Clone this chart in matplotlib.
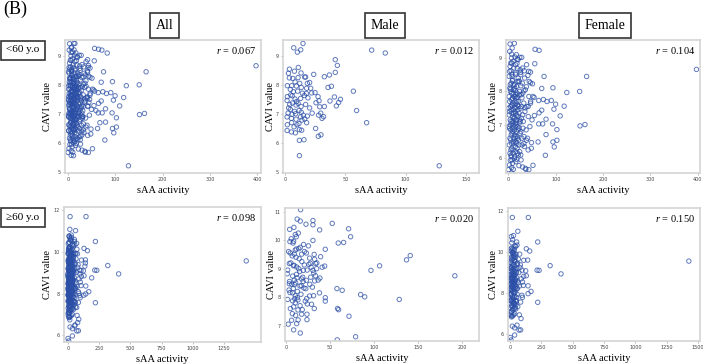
import numpy as np
import matplotlib
matplotlib.use('Agg')
import matplotlib.pyplot as plt

# ---------------------------------------------------------------------------
# Data: (sAA activity, CAVI value) per subject
# "All" panels are the union of the Male and Female groups
# ---------------------------------------------------------------------------
male_lt60 = np.array([
    (14.9, 9.43), (7.2, 9.28), (13.0, 9.21), (10.2, 9.13), (71.9, 9.20), (83.2, 9.10),
    (41.7, 8.87), (43.4, 8.67), (3.6, 8.54), (7.8, 8.47), (2.8, 8.40), (13.3, 8.41),
    (16.3, 8.27), (17.1, 8.27), (23.8, 8.36), (32.6, 8.28), (36.8, 8.34), (41.7, 8.43),
    (3.6, 8.24), (6.4, 8.22), (10.8, 8.25), (8.3, 8.10), (12.2, 8.05), (20.4, 8.08),
    (1.9, 7.97), (5.5, 7.97), (9.4, 7.96), (13.5, 7.91), (17.9, 7.88), (21.3, 7.88),
    (35.7, 7.91), (56.7, 7.78), (4.4, 7.84), (6.9, 7.76), (10.5, 7.78), (14.4, 7.71),
    (17.7, 7.70), (22.1, 7.72), (24.9, 7.73), (1.9, 7.59), (4.7, 7.65), (8.3, 7.51),
    (12.9, 7.53), (16.0, 7.63), (27.4, 7.59), (41.0, 7.58), (37.3, 7.44), (28.2, 7.45),
    (25.7, 7.38), (44.5, 7.39), (42.6, 7.27), (32.6, 7.25), (1.7, 7.46), (3.9, 7.32),
    (6.1, 7.37), (9.1, 7.30), (10.8, 7.36), (13.3, 7.25), (17.1, 7.32), (20.4, 7.20),
    (28.8, 7.24), (4.4, 7.15), (8.0, 7.08), (11.6, 7.11), (2.5, 7.02), (5.8, 6.98),
    (8.8, 7.00), (13.5, 7.05), (15.2, 6.95), (18.5, 6.92), (29.6, 7.02), (27.9, 6.95),
    (59.4, 7.11), (67.7, 6.69), (1.7, 6.89), (5.3, 6.84), (9.1, 6.81), (12.9, 6.89),
    (16.3, 6.82), (17.9, 6.69), (30.7, 6.84), (1.9, 6.62), (5.5, 6.69), (9.9, 6.62),
    (11.6, 6.66), (25.4, 6.49), (1.7, 6.42), (5.3, 6.37), (8.6, 6.34), (11.9, 6.45),
    (13.8, 6.43), (27.6, 6.22), (29.8, 6.27), (11.9, 6.08), (15.7, 6.10), (11.9, 5.55),
    (128.0, 5.20), (6.0, 7.62), (9.5, 7.42), (19.0, 7.55), (3.0, 7.20), (14.0, 6.78),
    (22.5, 7.02), (7.5, 6.55), (11.0, 8.60), (18.5, 8.05), (32.0, 6.90), (38.5, 7.95),
    (46.0, 7.50),
])

female_lt60 = np.array([
    # sparse points
    (3.6, 9.42), (12.6, 9.44), (56.5, 9.26), (64.9, 9.23), (6.9, 9.12), (13.9, 9.03),
    (24.1, 9.02), (28.2, 9.02), (19.2, 8.97), (55.8, 8.83), (6.9, 8.85), (18.2, 8.84),
    (18.9, 8.69), (5.6, 8.62), (33.5, 8.62), (25.8, 8.57), (46.8, 8.58), (7.5, 8.52),
    (15.2, 8.51), (41.2, 8.48), (75.4, 8.45), (165.3, 8.45), (397.5, 8.66), (8.4, 8.32),
    (22.9, 8.31), (46.8, 8.26), (51.0, 8.23), (10.5, 8.19), (26.4, 8.17), (38.2, 8.14),
    (70.5, 8.09), (94.2, 8.11), (123.5, 7.97), (150.7, 8.00), (4.9, 8.07), (14.6, 8.03),
    (32.8, 8.02), (54.4, 7.82), (64.2, 7.73), (73.9, 7.76), (90.7, 7.73), (81.6, 7.70),
    (99.8, 7.62), (96.3, 7.47), (117.9, 7.56), (109.5, 7.27), (8.4, 7.79), (18.9, 7.83),
    (28.7, 7.81), (43.3, 7.85), (46.8, 7.65), (41.9, 7.55), (7.7, 7.59), (16.1, 7.52),
    (35.6, 7.51), (70.5, 7.44), (64.9, 7.36), (79.6, 7.17), (55.1, 7.28), (64.2, 7.03),
    (72.5, 7.03), (93.4, 7.03), (151.4, 6.97), (161.9, 7.01), (102.6, 6.86), (79.6, 6.71),
    (94.2, 6.49), (102.6, 6.54), (97.0, 6.34), (78.2, 6.09), (62.8, 6.49), (48.9, 6.47),
    (38.2, 6.54), (32.8, 6.44), (41.9, 6.25), (5.6, 6.09), (17.5, 5.97), (4.2, 5.94),
    (22.3, 5.78), (6.9, 5.72), (30.0, 5.74), (37.0, 5.67), (43.3, 5.66), (10.5, 5.67),
    (0.5, 5.66), (7.0, 5.56), (36.0, 5.70), (52.0, 5.79),
    # dense core
    (1.5, 7.85), (2.2, 6.90), (3.1, 7.40), (4.0, 8.20), (4.8, 6.55), (5.5, 7.10),
    (6.3, 7.75), (7.0, 6.30), (7.8, 8.45), (8.6, 7.25), (9.4, 6.80), (10.2, 7.95),
    (11.0, 7.00), (11.8, 6.45), (12.6, 7.60), (13.4, 8.10), (14.2, 6.95), (15.0, 7.35),
    (15.8, 6.20), (16.6, 7.80), (17.4, 7.15), (18.2, 6.65), (19.0, 8.30), (19.8, 7.45),
    (20.6, 6.85), (21.4, 7.70), (22.2, 6.40), (23.0, 7.05), (23.8, 8.00), (24.6, 6.75),
    (25.4, 7.50), (26.2, 6.10), (27.0, 7.90), (27.8, 7.20), (28.6, 6.60), (29.4, 8.25),
    (30.2, 7.30), (31.0, 6.90), (32.5, 7.65), (34.0, 6.35), (2.5, 8.60), (3.5, 6.15),
    (4.5, 7.55), (5.2, 8.85), (6.0, 6.70), (6.8, 7.95), (7.5, 5.95), (8.2, 7.05),
    (9.0, 8.35), (9.8, 6.25), (10.5, 7.45), (11.3, 8.70), (12.0, 6.60), (12.8, 7.20),
    (13.6, 6.05), (14.4, 7.85), (15.2, 8.55), (16.0, 6.50), (16.8, 7.00), (17.6, 8.15),
    (18.4, 6.30), (19.2, 7.60), (20.0, 6.95), (20.8, 8.40), (21.6, 6.55), (22.4, 7.35),
    (23.2, 7.90), (24.0, 6.20), (24.8, 8.65), (25.6, 7.10), (1.2, 6.95), (1.8, 7.30),
    (2.8, 7.70), (3.3, 6.60), (3.8, 7.15), (4.3, 8.00), (5.0, 6.85), (5.8, 7.45),
    (6.5, 6.45), (7.2, 7.60), (7.9, 6.75), (8.8, 7.80), (9.6, 7.10), (10.4, 6.50),
    (11.2, 7.35), (12.2, 7.85), (13.0, 6.70), (13.8, 7.50), (14.6, 6.35), (15.4, 7.05),
    (16.2, 7.65), (17.0, 6.80), (17.8, 7.30), (18.6, 7.95), (19.4, 6.60), (20.2, 7.25),
    (21.0, 6.10), (21.8, 7.55), (22.6, 6.90), (23.4, 7.15), (1.0, 7.50), (2.0, 6.40),
    (3.0, 8.10), (4.1, 7.00), (5.3, 6.25), (6.1, 8.25), (7.3, 7.35), (8.4, 6.90),
    (9.2, 7.65), (10.0, 6.15), (10.8, 8.05), (11.6, 7.20), (12.4, 6.85), (13.2, 8.20),
    (14.0, 7.40), (14.8, 6.65), (15.6, 7.90), (16.4, 7.15), (17.2, 6.45), (18.0, 7.70),
    (26.5, 6.80), (28.0, 7.55), (29.0, 6.40), (30.5, 7.95), (31.5, 7.10), (33.0, 6.65),
    (35.0, 7.40), (36.0, 8.05), (37.5, 6.85), (39.0, 7.55), (40.5, 6.60), (42.0, 7.25),
    (44.0, 8.30), (45.5, 6.95), (47.0, 7.70), (48.5, 6.30), (50.0, 7.15), (52.0, 7.85),
    (2.4, 5.80), (5.9, 6.05), (8.9, 5.85), (12.9, 6.00), (15.9, 5.90), (19.6, 6.15),
    (26.8, 5.95), (1.6, 8.45), (3.6, 8.75), (6.6, 9.00), (9.9, 8.90), (14.9, 8.80),
    (20.4, 8.95), (26.0, 8.50), (30.0, 8.70), (34.5, 8.40), (38.5, 8.80), (43.0, 8.60),
    (2.9, 9.20), (8.0, 9.30), (17.0, 9.10), (22.0, 8.30),
])

male_ge60 = np.array([
    (16.6, 11.07), (12.7, 10.74), (16.2, 10.67), (30.6, 10.69), (22.7, 10.56), (30.6, 10.54),
    (52.5, 10.59), (71.1, 10.40), (4.2, 10.38), (38.2, 10.36), (10.6, 10.20), (11.7, 10.12),
    (73.3, 10.12), (8.7, 9.96), (30.6, 9.99), (59.3, 9.90), (65.4, 9.92), (16.2, 9.75),
    (11.7, 9.69), (44.6, 9.68), (4.9, 9.55), (23.1, 9.55), (9.4, 9.51), (17.8, 9.51),
    (26.8, 9.37), (39.3, 9.42), (32.5, 9.33), (3.8, 9.18), (9.1, 9.12), (12.1, 9.06),
    (20.8, 9.13), (27.6, 9.19), (33.6, 9.18), (43.9, 9.09), (14.4, 9.00), (19.7, 8.94),
    (30.6, 8.94), (34.8, 9.00), (106.2, 9.10), (96.4, 8.94), (136.8, 9.31), (141.0, 9.46),
    (1.5, 8.82), (7.6, 8.74), (12.5, 8.68), (17.8, 8.64), (23.1, 8.59), (28.0, 8.70),
    (38.5, 8.67), (32.5, 8.57), (3.8, 8.47), (9.8, 8.44), (15.9, 8.39), (20.4, 8.32),
    (8.3, 8.30), (57.8, 8.30), (63.8, 8.24), (4.5, 8.16), (10.6, 8.05), (12.9, 7.98),
    (26.8, 8.04), (31.3, 8.05), (44.6, 7.98), (84.7, 8.09), (89.3, 8.01), (128.5, 7.92),
    (1.9, 7.92), (7.6, 7.87), (10.6, 7.80), (21.9, 7.86), (24.2, 7.76), (32.1, 7.60),
    (44.6, 7.86), (59.7, 7.56), (58.5, 7.60), (8.7, 7.66), (13.6, 7.55), (18.5, 7.56),
    (7.2, 7.42), (11.0, 7.36), (17.8, 7.40), (23.8, 7.40), (71.5, 7.33), (6.4, 7.19),
    (13.8, 7.20), (23.8, 7.21), (2.6, 7.05), (12.1, 7.07), (8.7, 6.85), (16.2, 6.74),
    (58.2, 6.50), (79.0, 6.61), (191.6, 8.75),
    (3.0, 9.60), (5.5, 9.20), (6.5, 8.45), (8.0, 9.90), (9.5, 8.60), (11.5, 9.40),
    (13.0, 8.20), (14.5, 9.70), (15.5, 8.90), (17.0, 8.10), (18.0, 9.25), (19.5, 8.55),
    (21.0, 9.60), (22.5, 8.30), (24.0, 8.95), (25.5, 9.80), (27.0, 8.45), (28.5, 9.05),
    (30.0, 8.35), (32.0, 9.50), (33.5, 8.75), (35.0, 9.20), (36.5, 8.60), (2.0, 8.95),
    (4.0, 8.55), (7.0, 9.45), (10.0, 7.95), (12.0, 8.80), (16.0, 7.70), (20.0, 9.85),
    (6.0, 10.05), (9.0, 10.45), (14.0, 10.25), (19.0, 8.70), (23.5, 7.95), (26.0, 9.15),
    (29.0, 7.75), (31.5, 8.85), (3.5, 8.25), (5.0, 7.60), (8.5, 9.10), (11.0, 8.50),
    (13.5, 7.90), (15.0, 9.35), (17.5, 8.40), (4.5, 9.95), (7.5, 8.15), (10.5, 9.65),
    (38.0, 8.15), (41.0, 9.05),
])

female_ge60 = np.array([
    # sparse points
    (18.6, 11.68), (146, 11.68), (62.5, 11.01), (55.9, 10.34), (45.3, 10.27), (221, 10.49),
    (130, 10.16), (157, 10.05), (141, 9.61), (21.3, 10.00), (34.6, 10.13), (320, 9.34),
    (232, 9.11), (407, 8.94), (1427, 9.56), (216, 9.12), (130, 8.85), (144, 8.36),
    (168, 8.09), (144, 7.98), (221, 7.56), (99, 7.80), (88, 6.77), (72, 6.21),
    (85, 6.22), (8.0, 5.73), (2.0, 5.85), (37, 5.97), (18.6, 6.40), (37, 6.32),
    (56, 6.45), (74.6, 6.95), (45, 7.23), (85, 7.57), (106, 8.38), (109, 8.82),
    (125, 9.09), (96, 9.12), (82.5, 9.38), (66.5, 9.66), (47.9, 9.90), (77, 9.90),
    (53, 10.49), (34.6, 9.61), (10.6, 7.08), (13.3, 6.90), (8, 7.65), (50.6, 7.64),
    (26.6, 7.50), (58.6, 8.24), (39.9, 8.62), (21.3, 8.78),
    # dense core
    (3, 8.45), (6, 7.90), (9, 9.05), (12, 8.30), (15, 7.60), (18, 8.80), (21, 9.35),
    (24, 8.10), (27, 7.75), (30, 8.95), (33, 9.60), (36, 8.40), (39, 7.85), (42, 9.15),
    (45, 8.65), (48, 7.45), (51, 9.00), (54, 8.20), (57, 7.95), (60, 9.45), (4, 9.20),
    (7, 8.65), (10, 7.40), (13, 9.75), (16, 8.95), (19, 7.20), (22, 8.55), (25, 9.95),
    (28, 8.25), (31, 7.55), (34, 8.85), (37, 9.30), (40, 8.05), (43, 7.65), (46, 9.55),
    (49, 8.35), (52, 7.80), (55, 9.20), (58, 8.60), (62, 7.35), (2, 7.65), (5, 8.15),
    (8, 10.05), (11, 7.95), (14, 8.70), (17, 9.45), (20, 7.85), (23, 9.10), (26, 8.45),
    (29, 9.85), (32, 7.25), (35, 9.05), (38, 8.55), (41, 8.90), (44, 8.25), (47, 9.05),
    (50, 7.60), (53, 8.75), (56, 9.40), (65, 8.50), (1, 8.90), (3.5, 7.30), (5.5, 9.50),
    (7.5, 8.00), (9.5, 8.85), (11.5, 9.25), (13.5, 7.70), (15.5, 8.35), (17.5, 9.65),
    (19.5, 8.50), (21.5, 7.40), (23.5, 8.95), (25.5, 7.70), (27.5, 9.20), (29.5, 8.60),
    (31.5, 9.40), (33.5, 8.00), (35.5, 7.50), (37.5, 9.90), (39.5, 8.70), (2.5, 9.90),
    (6.5, 10.15), (10.5, 9.60), (14.5, 10.20), (18.5, 9.95), (22.5, 10.15), (26.5, 9.70),
    (30.5, 10.05), (34.5, 9.80), (38.5, 10.30), (4.5, 6.95), (8.5, 7.10), (12.5, 6.85),
    (16.5, 7.35), (20.5, 6.90), (24.5, 7.20), (28.5, 6.95), (32.5, 7.45), (36.5, 7.00),
    (42.5, 7.30), (1.5, 8.25), (5.0, 8.75), (9.0, 8.20), (13.0, 8.55), (17.0, 8.15),
    (21.0, 8.70), (25.0, 8.30), (29.0, 8.05), (33.0, 8.50), (44.0, 9.75), (3.0, 7.95),
    (7.0, 9.30), (11.0, 8.45), (15.0, 9.15), (19.0, 8.75), (23.0, 7.60), (27.0, 8.85),
    (31.0, 8.40), (35.0, 8.20), (70, 9.00), (10, 10.75), (20, 10.60), (28, 10.80),
    (14, 10.45), (75, 8.35), (80, 9.25), (90, 8.70), (95, 7.90), (100, 8.55), (110, 9.60),
])

all_lt60 = np.vstack([male_lt60, female_lt60])
all_ge60 = np.vstack([male_ge60, female_ge60])

col_titles = ['All', 'Male', 'Female']
row_titles = ['<60 y.o', '\u226560 y.o']
r_values = [['0.067', '0.012', '0.104'],
            ['0.098', '0.020', '0.150']]

# ---------------------------------------------------------------------------
# Layout (pixels of the 703x364 figure) and axis settings per panel
# ---------------------------------------------------------------------------
W, H = 703, 364
panels = [
    # data, (left, right, top, bottom), xlim, xticks, ylim, yticks, ylabel offset
    (all_lt60, (65, 261, 40, 173), (-6, 408), [0, 100, 200, 300, 400], (4.95, 9.55), [5, 6, 7, 8, 9], 0.066),
    (male_lt60, (283, 479, 40, 173), (-1.7, 161), [0, 50, 100, 150], (4.95, 9.55), [5, 6, 7, 8, 9], 0.042),
    (female_lt60, (506, 700, 40, 173), (-5, 405), [0, 100, 200, 300, 400], (5.56, 9.54), [6, 7, 8, 9], 0.043),
    (all_ge60, (64, 261, 207, 342), (-30, 1545), [0, 250, 500, 750, 1000, 1250], (5.68, 12.14), [6, 8, 10, 12], 0.060),
    (male_ge60, (285, 479, 208, 341), (-1.1, 219), [0, 50, 100, 150, 200], (6.46, 11.13), [7, 8, 9, 10, 11], 0.048),
    (female_ge60, (508, 700, 208, 341), (-16, 1516), [0, 250, 500, 750, 1000, 1250, 1500], (5.68, 12.14), [6, 8, 10, 12], 0.054),
]

plt.rcParams['mathtext.fontset'] = 'custom'
plt.rcParams['mathtext.it'] = 'Liberation Serif:italic'
plt.rcParams['mathtext.rm'] = 'Liberation Serif'
serif = 'Liberation Serif'

fig = plt.figure(figsize=(W / 100, H / 100), dpi=100)

for i, (data, (l, r, t, b), xlim, xticks, ylim, yticks, ylab_x) in enumerate(panels):
    ax = fig.add_axes([l / W, 1 - b / H, (r - l) / W, (b - t) / H])
    ax.scatter(data[:, 0], data[:, 1], s=10, facecolors='none',
               edgecolors='#2b4fa6', linewidths=0.7, alpha=0.75)
    ax.set_xlim(*xlim)
    ax.set_ylim(*ylim)
    ax.set_xticks(xticks)
    ax.set_yticks(yticks)
    ax.tick_params(labelsize=3.5, length=1.5, width=0.4, colors='#888888', pad=1.5)
    for lab in ax.get_xticklabels() + ax.get_yticklabels():
        lab.set_color('#444444')
    for sp in ax.spines.values():
        sp.set_color('#d4d4d4')
        sp.set_linewidth(1.2)
    ax.set_xlabel('sAA activity', fontsize=7.5, family=serif)
    ax.set_ylabel('CAVI value', fontsize=7.5, family=serif)
    ax.yaxis.set_label_coords(-ylab_x, 0.5)
    ax.xaxis.set_label_coords(0.5, -0.10)
    ax.text(0.975, 0.96, '$r$ = ' + r_values[i // 3][i % 3], transform=ax.transAxes,
            ha='right', va='top', fontsize=7.5, family=serif)

# column and row headers
box = dict(boxstyle='square,pad=0.4', facecolor='white', edgecolor='#333333', linewidth=1.2)
for title, xc in zip(col_titles, [164.5, 385, 605]):
    fig.text(xc / W, 1 - 25.5 / H, title, ha='center', va='center', fontsize=10,
             family=serif, bbox=box)
box_row = dict(boxstyle='square,pad=0.45', facecolor='white', edgecolor='#333333', linewidth=1.2)
for title, yc in zip(row_titles, [50, 217.5]):
    fig.text(23 / W, 1 - yc / H, title, ha='center', va='center', fontsize=8,
             family=serif, bbox=box_row)

fig.text(3 / W, 1 - 14 / H, '(B)', ha='left', va='baseline', fontsize=13, family=serif)

fig.savefig('out.png', dpi=100)
